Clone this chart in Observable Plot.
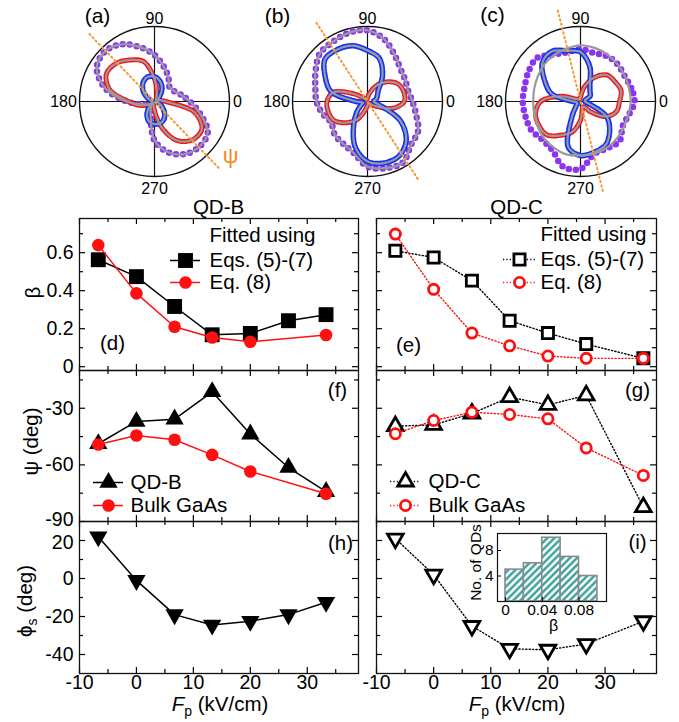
<!DOCTYPE html>
<html>
<head>
<meta charset="utf-8">
<script src="https://cdn.jsdelivr.net/npm/d3@7"></script>
<script src="https://cdn.jsdelivr.net/npm/@observablehq/plot@0.6"></script>
<style>
html,body{margin:0;padding:0;background:#fff;}
#chart{position:relative;width:679px;height:722px;overflow:hidden;background:#fff;}
#chart > svg{position:absolute;left:0;top:0;}
</style>
</head>
<body>
<svg width="0" height="0" style="position:absolute;left:0;top:0">
<defs>
<pattern id="hatch" patternUnits="userSpaceOnUse" width="5" height="5" patternTransform="rotate(45)">
<rect width="5" height="5" fill="white"></rect>
<line x1="2.5" y1="0" x2="2.5" y2="5" stroke="#23958d" stroke-width="2.2"></line>
</pattern>
</defs>
</svg>
<div id="chart"></div>
<script>
const W = 679, H = 722;

// ---------- polar panels (a)-(c): radius (fraction of outer circle) every 15 deg ----------
const polarAngles = [0,15,30,45,60,75,90,105,120,135,150,165,180,195,210,225,240,255,270,285,300,315,330,345];
const purpleA = [0.47,0.36,0.29,0.28,0.37,0.48,0.62,0.75,0.88,0.94,0.89,0.68,0.37,0.15,0.07,0.05,0.10,0.20,0.52,0.70,0.81,0.85,0.82,0.63];
const redA    = [0.15,0.07,0.04,0.03,0.05,0.12,0.30,0.55,0.64,0.72,0.74,0.62,0.35,0.20,0.08,0.03,0.03,0.05,0.12,0.35,0.60,0.72,0.73,0.55];
const blueA   = [0.03,0.03,0.05,0.10,0.20,0.28,0.33,0.34,0.30,0.22,0.12,0.05,0.03,0.03,0.05,0.10,0.20,0.28,0.30,0.30,0.26,0.18,0.10,0.05];
const purpleB = [0.60,0.56,0.58,0.62,0.72,0.86,0.95,0.95,0.92,0.90,0.80,0.72,0.68,0.62,0.56,0.62,0.65,0.71,0.87,0.92,0.94,0.82,0.78,0.67];
const redB    = [0.49,0.50,0.47,0.37,0.25,0.12,0.05,0.03,0.03,0.05,0.20,0.47,0.54,0.54,0.51,0.40,0.28,0.12,0.05,0.03,0.03,0.04,0.12,0.35];
const blueB   = [0.08,0.12,0.15,0.20,0.40,0.60,0.68,0.77,0.80,0.80,0.65,0.50,0.15,0.06,0.10,0.20,0.37,0.63,0.80,0.85,0.84,0.73,0.50,0.15];
const purpleC = [0.72,0.70,0.68,0.70,0.70,0.67,0.70,0.68,0.72,0.82,0.80,0.77,0.77,0.76,0.76,0.72,0.75,0.90,0.90,0.72,0.72,0.74,0.65,0.67];
const redC    = [0.52,0.56,0.53,0.50,0.37,0.20,0.06,0.04,0.03,0.04,0.06,0.27,0.53,0.62,0.64,0.63,0.52,0.42,0.25,0.10,0.08,0.20,0.40,0.50];
const blueC   = [0.06,0.06,0.15,0.18,0.25,0.48,0.66,0.70,0.77,0.72,0.55,0.40,0.10,0.05,0.05,0.08,0.22,0.63,0.72,0.70,0.67,0.55,0.40,0.12];
const fitOuterC = [0.67,0.67,0.68,0.70,0.72,0.74,0.75,0.73,0.71,0.69,0.66,0.64,0.63,0.64,0.66,0.69,0.71,0.73,0.72,0.72,0.71,0.69,0.67,0.66];
const psiAxisAngles = [-46, -57, -76];
const psiAxisExtent = [-1.25, 1.25];

// ---------- panels (d)-(i) ----------
const fieldB  = [-6.7, 0, 6.7, 13.3, 20, 26.7, 33.3];
const fieldB8 = [-6.7, 0, 6.7, 13.3, 20, 33.3];
const fieldC  = [-6.7, 0, 6.7, 13.3, 20, 26.7, 36.7];
const betaB57 = [0.563, 0.474, 0.317, 0.168, 0.175, 0.242, 0.274];
const betaB8  = [0.64, 0.386, 0.21, 0.154, 0.131, 0.167];
const betaC57 = [0.61, 0.575, 0.453, 0.242, 0.177, 0.119, 0.044];
const betaC8  = [0.698, 0.407, 0.177, 0.11, 0.056, 0.044, 0.044];
const psiQDB   = [-48.8, -37, -35.8, -21.3, -43.7, -61.4, -74.2];
const psiBulkB = [-49.2, -44.4, -46.7, -54.7, -63.5, -75.3];
const psiQDC   = [-39.5, -38.8, -32.8, -24.1, -28.2, -23.2, -82.4];
const psiBulkC = [-43.5, -36.5, -32.1, -33.3, -35.6, -51, -65.6];
const phiB = [22, -1, -19, -24.5, -22.5, -19, -12.5];
const phiC = [21, 2, -25, -37, -37.5, -34.5, -22.5];

// inset histogram
const histBinStart = [0, 0.02, 0.04, 0.06, 0.08];
const histBinWidth = 0.02;
const histCounts = [5, 6, 10, 7, 4];

// ticks
const xDomain = [-10, 39];
const xMajor = [-10, 0, 10, 20, 30], xMinor = [-5, 5, 15, 25, 35];
const betaDomain = [-0.02, 0.78], betaMajor = [0, 0.2, 0.4, 0.6], betaMinor = [0.1, 0.3, 0.5, 0.7];
const psiDomain = [-90, -10], psiMajor = [-90, -60, -30], psiMinor = [-75, -45, -15];
const phiDomain = [-50, 30], phiMajor = [-40, -20, 0, 20], phiMinor = [-30, -10, 10];
const histXDomain = [-0.0087, 0.1099], histYDomain = [0, 10.67];
const histXTicks = [0, 0.04, 0.08], histYTicks = [4, 8];

// ---------- styles ----------
const svgStyle = 'background: transparent; font-family: "Liberation Sans", Arial, sans-serif; font-size: 20.5px;';
const purpleCol = "#8a35f2", redCol = "#ff1010", blueCol = "#1030ff", grayCol = "#9a9a9a", orangeCol = "#f39a3a";
const fmt = d => String(d);
const rows = (xs, ys) => xs.map((x, i) => ({x, y: ys[i]}));
const triDown = {draw(ctx, size) {
  const y = -Math.sqrt(size / (Math.sqrt(3) * 3));
  ctx.moveTo(0, -y * 2); ctx.lineTo(-Math.sqrt(3) * y, y); ctx.lineTo(Math.sqrt(3) * y, y); ctx.closePath();
}};

const chart = document.getElementById("chart");

// ---------- polar plots ----------
function polarPlot(cx, purple, red, blue, fitOuter, psi) {
  const half = 97.5, cy = 101;
  const pr = r => polarAngles.map((a, i) => ({a, r: r[i]}));
  const pos = {x: d => d.r * Math.cos(d.a * Math.PI / 180), y: d => d.r * Math.sin(d.a * Math.PI / 180), curve: "catmull-rom-closed"};
  const fits = [fitOuter, red, blue].map(r => Plot.line(pr(r), {...pos, stroke: grayCol, strokeWidth: 2.2}));
  return Plot.plot({
    width: W, height: H,
    marginLeft: cx - half, marginRight: W - cx - half, marginTop: cy - half, marginBottom: H - cy - half,
    style: svgStyle,
    x: {domain: [-1.3, 1.3], axis: null}, y: {domain: [-1.3, 1.3], axis: null},
    marks: [
      Plot.ruleY([0], {x1: -1, x2: 1, stroke: "#111", strokeWidth: 1.2}),
      Plot.ruleX([0], {y1: -1, y2: 1, stroke: "#111", strokeWidth: 1.2}),
      Plot.dot([[0, 0]], {r: 75, stroke: "#111", strokeWidth: 1.4, fill: "none"}),
      Plot.line(pr(purple), {...pos, stroke: purpleCol, strokeWidth: 6.5, strokeDasharray: "0 7", strokeLinecap: "round"}),
      Plot.line(pr(red), {...pos, stroke: redCol, strokeWidth: 5, strokeDasharray: "2.5 1.5"}),
      Plot.line(pr(blue), {...pos, stroke: blueCol, strokeWidth: 5.5, strokeDasharray: "4.5 2"}),
      ...fits,
      Plot.line(psiAxisExtent, {x: t => t * Math.cos(psi * Math.PI / 180), y: t => t * Math.sin(psi * Math.PI / 180),
        stroke: orangeCol, strokeWidth: 2, strokeDasharray: "1.5 3", strokeLinecap: "round"})
    ]
  });
}
const polarCenters = [154, 367, 580];
chart.append(polarPlot(polarCenters[0], purpleA, redA, blueA, purpleA, psiAxisAngles[0]));
chart.append(polarPlot(polarCenters[1], purpleB, redB, blueB, purpleB, psiAxisAngles[1]));
chart.append(polarPlot(polarCenters[2], purpleC, redC, blueC, fitOuterC, psiAxisAngles[2]));

// ---------- rectangular panels ----------
// yShift: small vertical nudge (px) of individual tick labels so neighbouring panels' labels do not collide
function panel(fr, yDomain, yMajor, yMinor, showY, showX, marks, yShift = {}) {
  const {left, top, w, h} = fr;
  const yLabelMarks = !showY ? [] : yMajor.map(v => Plot.text([v], {
    y: d => d, text: fmt, frameAnchor: "left", textAnchor: "end", lineAnchor: "middle",
    dx: -6, dy: yShift[v] ?? 0, fontSize: 19.5, fill: "black"
  }));
  return Plot.plot({
    width: W, height: H,
    marginLeft: left, marginTop: top, marginRight: W - left - w, marginBottom: H - top - h,
    style: svgStyle + " font-size: 19.5px;",
    x: showX ? {domain: xDomain, ticks: xMajor, tickSize: 0, tickPadding: 2, tickFormat: fmt, label: null} : {domain: xDomain, axis: null},
    y: {domain: yDomain, axis: null},
    marks: [
      Plot.tickX(xMajor, {insetTop: h - 6, strokeWidth: 1.2}),
      Plot.tickX(xMajor, {insetBottom: h - 6, strokeWidth: 1.2}),
      Plot.tickX(xMinor, {insetTop: h - 4, strokeWidth: 1.2}),
      Plot.tickX(xMinor, {insetBottom: h - 4, strokeWidth: 1.2}),
      Plot.tickY(yMajor, {insetRight: w - 6, strokeWidth: 1.2}),
      Plot.tickY(yMajor, {insetLeft: w - 6, strokeWidth: 1.2}),
      Plot.tickY(yMinor, {insetRight: w - 4, strokeWidth: 1.2}),
      Plot.tickY(yMinor, {insetLeft: w - 4, strokeWidth: 1.2}),
      ...yLabelMarks,
      ...marks,
      Plot.frame({stroke: "#111", strokeWidth: 1.3})
    ]
  });
}
const solid = c => ({x: "x", y: "y", stroke: c, strokeWidth: 1.5});
const dotted = c => ({x: "x", y: "y", stroke: c, strokeWidth: 1.4, strokeDasharray: "1.2 2.2"});
const filled = (sym, r, c) => ({x: "x", y: "y", symbol: sym, r, fill: c, stroke: "none"});
const open = (sym, r, c) => ({x: "x", y: "y", symbol: sym, r, fill: "white", stroke: c, strokeWidth: 2.8});

const frames = {
  d: {left: 79, top: 218, w: 279, h: 152}, e: {left: 376, top: 218, w: 280, h: 152},
  f: {left: 79, top: 370, w: 279, h: 151}, g: {left: 376, top: 370, w: 280, h: 151},
  h: {left: 79, top: 521, w: 279, h: 152}, i: {left: 376, top: 521, w: 280, h: 152}
};

chart.append(panel(frames.d, betaDomain, betaMajor, betaMinor, true, false, [
  Plot.line(rows(fieldB, betaB57), solid("black")),
  Plot.dot(rows(fieldB, betaB57), filled("square", 8.4, "black")),
  Plot.line(rows(fieldB8, betaB8), solid(redCol)),
  Plot.dot(rows(fieldB8, betaB8), filled("circle", 6.3, redCol))
]));
chart.append(panel(frames.e, betaDomain, betaMajor, betaMinor, false, false, [
  Plot.line(rows(fieldC, betaC57), dotted("black")),
  Plot.dot(rows(fieldC, betaC57), open("square", 6.3, "black")),
  Plot.line(rows(fieldC, betaC8), dotted(redCol)),
  Plot.dot(rows(fieldC, betaC8), open("circle", 5.1, redCol))
]));
chart.append(panel(frames.f, psiDomain, psiMajor, psiMinor, true, false, [
  Plot.line(rows(fieldB, psiQDB), solid("black")),
  Plot.dot(rows(fieldB, psiQDB), filled("triangle", 6.8, "black")),
  Plot.line(rows(fieldB8, psiBulkB), solid(redCol)),
  Plot.dot(rows(fieldB8, psiBulkB), filled("circle", 6.3, redCol))
], {[-90]: -2}));
chart.append(panel(frames.g, psiDomain, psiMajor, psiMinor, false, false, [
  Plot.line(rows(fieldC, psiQDC), dotted("black")),
  Plot.dot(rows(fieldC, psiQDC), open("triangle", 5.8, "black")),
  Plot.line(rows(fieldC, psiBulkC), dotted(redCol)),
  Plot.dot(rows(fieldC, psiBulkC), open("circle", 5.1, redCol))
]));
chart.append(panel(frames.h, phiDomain, phiMajor, phiMinor, true, true, [
  Plot.line(rows(fieldB, phiB), solid("black")),
  Plot.dot(rows(fieldB, phiB), filled(triDown, 6.8, "black"))
], {20: 2}));
chart.append(panel(frames.i, phiDomain, phiMajor, phiMinor, false, true, [
  Plot.line(rows(fieldC, phiC), dotted("black")),
  Plot.dot(rows(fieldC, phiC), open(triDown, 5.8, "black"))
]));

// ---------- inset histogram ----------
const histBins = histBinStart.map((x1, i) => ({x1, x2: x1 + histBinWidth, n: histCounts[i]}));
const inset = {left: 497, top: 533, w: 109, h: 68};
chart.append(Plot.plot({
  width: W, height: H,
  marginLeft: inset.left, marginTop: inset.top, marginRight: W - inset.left - inset.w, marginBottom: H - inset.top - inset.h,
  style: svgStyle + " font-size: 15.5px;",
  x: {domain: histXDomain, ticks: histXTicks, tickSize: 0, tickPadding: 2, tickFormat: fmt, label: null},
  y: {domain: histYDomain, ticks: histYTicks, tickSize: 0, tickPadding: 4, tickFormat: fmt, label: null},
  marks: [
    Plot.frame({fill: "white", stroke: "none"}),
    Plot.rectY(histBins, {x1: "x1", x2: "x2", y: "n", fill: "url(#hatch)", stroke: "#8a8a8a", strokeWidth: 1.6}),
    Plot.tickY(histYTicks, {insetRight: inset.w - 4}),
    Plot.tickX(histXTicks, {insetTop: inset.h - 4}),
    Plot.frame({stroke: "#111", strokeWidth: 1.2})
  ]
}));

// ---------- annotations ----------
const T = (t, x, y, o = {}) => Plot.text([{t, x, y}], {x: "x", y: "y", text: "t", fontSize: 20.5, textAnchor: "middle", lineAnchor: "middle", fill: "black", ...o});
const legendRow = (x1, x2, y, lineOpts, dotOpts, label, tx) => [
  Plot.ruleY([y], {x1, x2, ...lineOpts}),
  Plot.dot([[(x1 + x2) / 2, y]], dotOpts),
  T(label, tx, y, {textAnchor: "start"})
];
const polarLabels = polarCenters.flatMap(cx => [
  T("90", cx, 18, {fontSize: 16}), T("270", cx, 188, {fontSize: 16}),
  T("180", cx - 91, 101, {fontSize: 16}), T("0", cx + 83, 101, {fontSize: 16})
]);
const lineSolid = c => ({stroke: c, strokeWidth: 1.5});
const lineDot = c => ({stroke: c, strokeWidth: 1.4, strokeDasharray: "1.2 2.2"});

const ann = Plot.plot({
  width: W, height: H, marginLeft: 0, marginRight: 0, marginTop: 0, marginBottom: 0,
  style: svgStyle,
  x: {type: "identity", axis: null}, y: {type: "identity", axis: null},
  marks: [
    T("(a)", 97, 16, {fontSize: 21}), T("(b)", 277, 16, {fontSize: 21}), T("(c)", 492, 15, {fontSize: 21}),
    ...polarLabels,
    T("ψ", 230, 155, {fontSize: 22, fill: "#f08a24"}),
    T("QD-B", 218, 207), T("QD-C", 516, 207),
    T("(d)", 112, 343), T("(e)", 408, 345), T("(f)", 337, 390), T("(g)", 637, 390), T("(h)", 340, 543), T("(i)", 637, 542),
    T("Fitted using", 209, 235, {textAnchor: "start"}),
    ...legendRow(170, 200, 260, lineSolid("black"), {symbol: "square", r: 8.4, fill: "black"}, "Eqs. (5)-(7)", 209),
    ...legendRow(170, 200, 282, lineSolid(redCol), {symbol: "circle", r: 6.3, fill: redCol}, "Eq. (8)", 209),
    T("Fitted using", 540, 234, {textAnchor: "start"}),
    ...legendRow(503, 535, 259, lineDot("black"), {symbol: "square", r: 6.3, fill: "white", stroke: "black", strokeWidth: 2.8}, "Eqs. (5)-(7)", 540),
    ...legendRow(503, 535, 282, lineDot(redCol), {symbol: "circle", r: 5.1, fill: "white", stroke: redCol, strokeWidth: 2.8}, "Eq. (8)", 540),
    ...legendRow(93, 123, 482, lineSolid("black"), {symbol: "triangle", r: 6.8, fill: "black"}, "QD-B", 130),
    ...legendRow(93, 123, 505, lineSolid(redCol), {symbol: "circle", r: 6.3, fill: redCol}, "Bulk GaAs", 130),
    ...legendRow(390, 420, 481, lineDot("black"), {symbol: "triangle", r: 5.8, fill: "white", stroke: "black", strokeWidth: 2.8}, "QD-C", 428),
    ...legendRow(390, 420, 505, lineDot(redCol), {symbol: "circle", r: 5.1, fill: "white", stroke: redCol, strokeWidth: 2.8}, "Bulk GaAs", 428),
    T("β", 33, 292, {rotate: -90}),
    T("ψ (deg)", 31, 441, {rotate: -90}),
    T("No. of QDs", 476, 562, {rotate: -90, fontSize: 15.5}),
    T("β", 553, 625, {fontSize: 16})
  ]
});
chart.append(ann);

// labels with italic / subscript parts
const sa = d3.select(ann);
function fpLabel(cx) {
  const t = sa.append("text").attr("x", cx).attr("y", 711).attr("text-anchor", "middle").attr("font-size", 20.5).attr("fill", "black");
  t.append("tspan").attr("font-style", "italic").text("F");
  t.append("tspan").attr("dy", 5).attr("font-size", 14).text("p");
  t.append("tspan").attr("dy", -5).text(" (kV/cm)");
}
fpLabel(220); fpLabel(517);
const phi = sa.append("text").attr("transform", "translate(25,601) rotate(-90)").attr("text-anchor", "middle")
  .attr("dy", "0.35em").attr("font-size", 20.5).attr("fill", "black");
phi.append("tspan").text("ϕ");
phi.append("tspan").attr("dy", 5).attr("font-size", 14).text("s");
phi.append("tspan").attr("dy", -5).text(" (deg)");
</script>
</body>
</html>
